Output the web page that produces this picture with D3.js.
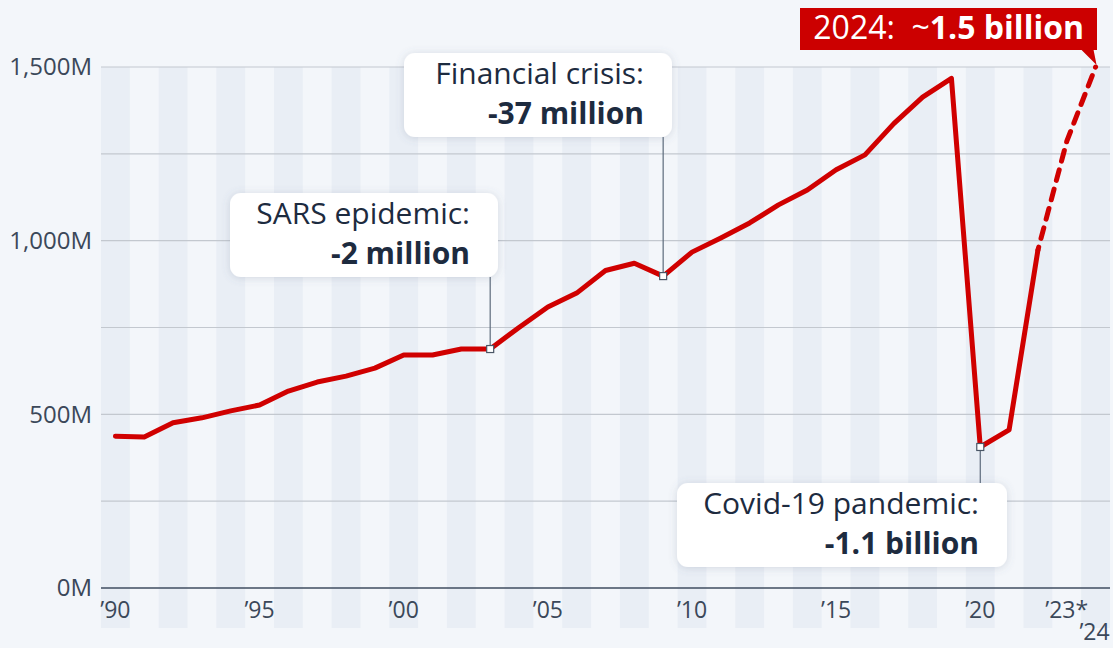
<!DOCTYPE html>
<html>
<head>
<meta charset="utf-8">
<script src="https://cdn.jsdelivr.net/npm/d3@7"></script>
<style>
  html, body { margin: 0; padding: 0; background: #f3f6fa; }
  svg { display: block; font-family: "Open Sans", "Noto Sans", sans-serif; }
</style>
</head>
<body>
<svg id="chart" width="1113" height="648"></svg>
<script>
// International tourist arrivals worldwide, in millions
const years = d3.range(1990, 2025);
const arrivals = [
  437, 435, 476, 490, 510, 527, 567, 593, 610, 633,
  671, 671, 688, 688, 750, 809, 849, 914, 935, 898,
  967, 1008, 1051, 1103, 1146, 1204, 1247, 1337, 1413, 1467,
  406, 455, 973, 1286, 1500
];
const forecastFrom = 2022; // values from this year on are estimates

const yTicks = [0, 500, 1000, 1500];
const yGrid = [250, 500, 750, 1000, 1250, 1500];
const xTickLabels = [
  { year: 1990, label: "’90" }, { year: 1995, label: "’95" },
  { year: 2000, label: "’00" }, { year: 2005, label: "’05" },
  { year: 2010, label: "’10" }, { year: 2015, label: "’15" },
  { year: 2020, label: "’20" }, { year: 2023, label: "’23*" },
  { year: 2024, label: "’24", drop: true }
];

const annotations = [
  { year: 2003, title: "SARS epidemic:", value: "-2 million", box: [230, 193, 268, 84] },
  { year: 2009, title: "Financial crisis:", value: "-37 million", box: [404, 53, 268, 84] },
  { year: 2020, title: "Covid-19 pandemic:", value: "-1.1 billion", box: [677, 483, 330, 84] }
];

const RED = "#d00000";
const TEXT = "#1d2b3f";
const AXIS_TEXT = "#3b4859";

const svg = d3.select("#chart");
const defs = svg.append("defs");
const shadow = defs.append("filter").attr("id", "shadow")
  .attr("x", "-20%").attr("y", "-30%").attr("width", "140%").attr("height", "160%");
shadow.append("feDropShadow").attr("dx", 0).attr("dy", 1).attr("stdDeviation", 4)
  .attr("flood-color", "#5a6b85").attr("flood-opacity", 0.22);

const x = d3.scaleBand().domain(years).range([101, 1110]).paddingInner(0).paddingOuter(0);
const y = d3.scaleLinear().domain([0, 1500]).range([588, 67]);
const cx = yr => x(yr) + x.bandwidth() / 2;

// alternating year stripes
svg.append("g").selectAll("rect")
  .data(years.filter((d, i) => i % 2 === 0))
  .join("rect")
  .attr("x", d => x(d)).attr("y", y(1500))
  .attr("width", x.bandwidth()).attr("height", 628 - y(1500))
  .attr("fill", "#e9eef5");

// horizontal grid
svg.append("g").selectAll("line")
  .data(yGrid).join("line")
  .attr("x1", 101).attr("x2", 1110)
  .attr("y1", d => y(d)).attr("y2", d => y(d))
  .attr("stroke", "#c3c8cf").attr("stroke-width", 1.2);

// baseline
svg.append("line").attr("x1", 101).attr("x2", 1110)
  .attr("y1", y(0)).attr("y2", y(0))
  .attr("stroke", "#3f4d5f").attr("stroke-width", 1.6);

// y axis labels
const yAxis = d3.axisLeft(y).tickValues(yTicks)
  .tickFormat(d => d3.format(",")(d) + "M").tickSize(0).tickPadding(9);
svg.append("g").attr("transform", "translate(101,0)").call(yAxis)
  .call(g => g.select(".domain").remove())
  .call(g => g.selectAll("text").attr("font-size", 24).attr("fill", AXIS_TEXT)
    .attr("font-family", "'Open Sans', sans-serif"));

// x axis labels; the last one drops to a second row to clear '23*
svg.append("g").selectAll("text")
  .data(xTickLabels).join("text")
  .attr("x", d => cx(d.year) - (d.drop ? 1 : 0))
  .attr("y", d => d.drop ? 640 : 618)
  .attr("text-anchor", "middle")
  .attr("font-size", 23).attr("fill", AXIS_TEXT)
  .text(d => d.label);

// line: solid for recorded values, dashed for estimates
const pts = years.map((yr, i) => ({ year: yr, v: arrivals[i] }));
const line = d3.line().x(d => cx(d.year)).y(d => y(d.v)).curve(d3.curveLinear);
svg.append("path").datum(pts.filter(d => d.year <= forecastFrom))
  .attr("d", line).attr("fill", "none").attr("stroke", RED)
  .attr("stroke-width", 5).attr("stroke-linejoin", "round").attr("stroke-linecap", "round");
svg.append("path").datum(pts.filter(d => d.year >= forecastFrom))
  .attr("d", line).attr("fill", "none").attr("stroke", RED)
  .attr("stroke-width", 5).attr("stroke-dasharray", "11 9").attr("stroke-dashoffset", -12)
  .attr("stroke-linecap", "round");

// annotations
annotations.forEach(a => {
  const v = arrivals[years.indexOf(a.year)];
  const px = cx(a.year), py = y(v);
  const [bx, by, bw, bh] = a.box;
  const below = by > py;
  const g = svg.append("g");
  g.append("line").attr("x1", px).attr("x2", px)
    .attr("y1", py).attr("y2", below ? by : by + bh)
    .attr("stroke", "#5d6b7c").attr("stroke-width", 1.2);
  g.append("rect").attr("x", px - 3.5).attr("y", py - 3.5).attr("width", 7).attr("height", 7)
    .attr("fill", "#fff").attr("stroke", "#4a5666").attr("stroke-width", 1.2);
  g.append("rect").attr("x", bx).attr("y", by).attr("width", bw).attr("height", bh)
    .attr("rx", 11).attr("fill", "#fff").attr("filter", "url(#shadow)");
  const tx = bx + bw - 28;
  g.append("text").attr("x", tx).attr("y", by + 31).attr("text-anchor", "end")
    .attr("font-size", 30).attr("fill", TEXT).text(a.title);
  g.append("text").attr("x", tx).attr("y", by + 71).attr("text-anchor", "end")
    .attr("font-size", 30).attr("font-weight", 700).attr("fill", TEXT).text(a.value);
});

// 2024 callout
const lastYear = years[years.length - 1];
const lx = cx(lastYear), ly = y(arrivals[arrivals.length - 1]);
const callout = svg.append("g");
callout.append("path")
  .attr("d", `M800,8 H1097 V50 H${lx - 2} L${lx + 1},${ly - 2} L${lx - 14},50 H800 Z`)
  .attr("fill", "#cc0000");
const ct = callout.append("text").attr("x", 1084).attr("y", 39).attr("text-anchor", "end")
  .attr("font-size", 32).attr("fill", "#fff").style("white-space", "pre");
ct.append("tspan").text("2024:  ~");
ct.append("tspan").attr("font-weight", 700).text("1.5 billion");
</script>
</body>
</html>
